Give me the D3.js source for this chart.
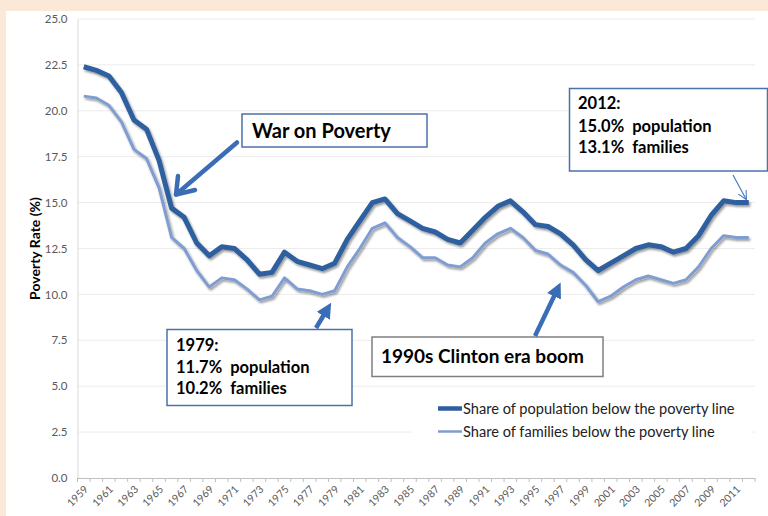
<!DOCTYPE html>
<html><head><meta charset="utf-8">
<script src="https://cdn.jsdelivr.net/npm/d3@7"></script>
<style>body{margin:0;background:#fff}svg{display:block}</style>
</head><body>
<svg id="chart" width="768" height="516"></svg>
<script>
const years = d3.range(1959, 2013);
const population = [22.4,22.2,21.9,21.0,19.5,19.0,17.3,14.7,14.2,12.8,
  12.1,12.6,12.5,11.9,11.1,11.2,12.3,11.8,11.6,11.4,
  11.7,13.0,14.0,15.0,15.2,14.4,14.0,13.6,13.4,13.0,
  12.8,13.5,14.2,14.8,15.1,14.5,13.8,13.7,13.3,12.7,
  11.9,11.3,11.7,12.1,12.5,12.7,12.6,12.3,12.5,13.2,
  14.3,15.1,15.0,15.0];
const families = [20.8,20.7,20.3,19.4,17.9,17.4,15.8,13.1,12.5,11.3,
  10.4,10.9,10.8,10.3,9.7,9.9,10.9,10.3,10.2,10.0,
  10.2,11.5,12.5,13.6,13.9,13.1,12.6,12.0,12.0,11.6,
  11.5,12.0,12.8,13.3,13.6,13.1,12.4,12.2,11.6,11.2,
  10.5,9.6,9.9,10.4,10.8,11.0,10.8,10.6,10.8,11.5,
  12.5,13.2,13.1,13.1];
const yTicks = [0,2.5,5,7.5,10,12.5,15,17.5,20,22.5,25];
const xLabelYears = years.filter(v => (v - 1959) % 2 === 0);
const seriesNames = ["Share of population below the poverty line","Share of families below the poverty line"];

const svg = d3.select("#chart");
const W = 768, H = 516;
const pL = 77.5, pR = 755, pT = 19, pB = 478;

svg.append("rect").attr("width", W).attr("height", H).attr("fill", "#fce8d6");
svg.append("rect").attr("x", 6).attr("y", 11).attr("width", W - 6).attr("height", H - 11).attr("fill", "#fff");

const defs = svg.append("defs");
const f = defs.append("filter").attr("id", "sh").attr("x", "-5%").attr("y", "-5%").attr("width", "110%").attr("height", "120%");
f.append("feDropShadow").attr("dx", 1.5).attr("dy", 2).attr("stdDeviation", 1.3).attr("flood-color", "#000").attr("flood-opacity", 0.4);
const mk = defs.append("marker").attr("id","tri").attr("viewBox","0 0 10 10").attr("refX",6).attr("refY",5)
  .attr("markerWidth",3.4).attr("markerHeight",3.4).attr("orient","auto").attr("markerUnits","strokeWidth");
mk.append("path").attr("d","M0,0L10,5L0,10z").attr("fill","#3a6db5");
const mk2 = defs.append("marker").attr("id","open").attr("viewBox","0 0 10 10").attr("refX",9).attr("refY",5)
  .attr("markerWidth",9).attr("markerHeight",9).attr("orient","auto").attr("markerUnits","userSpaceOnUse");
mk2.append("path").attr("d","M0,0L10,5L0,10").attr("fill","none").attr("stroke","#4a7bbf").attr("stroke-width",1.2);

const x = d3.scaleBand().domain(years).range([pL, pR]).padding(0);
const y = d3.scaleLinear().domain([0, 25]).range([pB, pT]);
const cx = d => x(d) + x.bandwidth() / 2;

// gridlines
svg.append("g").selectAll("line").data(yTicks.filter(t => t > 0)).join("line")
  .attr("x1", pL).attr("x2", pR).attr("y1", d => y(d)).attr("y2", d => y(d))
  .attr("stroke", "#ececec").attr("stroke-width", 1);

// y axis
const yAxis = svg.append("g").attr("transform", `translate(${pL},0)`)
  .call(d3.axisLeft(y).tickValues(yTicks).tickFormat(d3.format(".1f")).tickSize(0).tickPadding(10));
yAxis.select(".domain").attr("stroke", "#d9d9d9");
yAxis.selectAll("text").attr("font-family", "Lato, sans-serif").attr("font-size", 11.5).attr("fill", "#595959");

// x axis
const xAxis = svg.append("g").attr("transform", `translate(0,${pB})`)
  .call(d3.axisBottom(x).tickValues(xLabelYears).tickSize(0).tickPadding(0));
xAxis.select(".domain").attr("stroke", "#bfbfbf");
xAxis.selectAll("text").attr("font-family", "Lato, sans-serif").attr("font-size", 10.5).attr("fill", "#595959")
  .attr("text-anchor", "end").attr("dy", 0).attr("transform", "translate(5,12) rotate(-45)");
svg.append("g").selectAll("line").data(years.concat([2013])).join("line")
  .attr("x1", d => d === 2013 ? pR : x(d)).attr("x2", d => d === 2013 ? pR : x(d))
  .attr("y1", pB).attr("y2", pB + 4).attr("stroke", "#bfbfbf");

// axis title
svg.append("text").attr("transform", `translate(40,${(pT + pB) / 2}) rotate(-90)`)
  .attr("text-anchor", "middle").attr("font-family", "Lato, sans-serif").attr("font-weight", "bold")
  .attr("font-size", 14).attr("fill", "#000").text("Poverty Rate (%)");

// lines
const line = d3.line().x((d, i) => cx(years[i])).y(d => y(d));
svg.append("path").datum(families).attr("d", line).attr("fill", "none")
  .attr("stroke", "#7f9dd0").attr("stroke-width", 3).attr("stroke-linejoin", "round").attr("filter", "url(#sh)");
svg.append("path").datum(population).attr("d", line).attr("fill", "none")
  .attr("stroke", "#2f5e9e").attr("stroke-width", 5).attr("stroke-linejoin", "round").attr("filter", "url(#sh)");

// annotation boxes
function box(x0, y0, w, h, stroke) {
  svg.append("rect").attr("x", x0).attr("y", y0).attr("width", w).attr("height", h)
    .attr("fill", "#fff").attr("stroke", stroke).attr("stroke-width", 1.5);
}
function txt(x0, y0, s, size, weight) {
  return svg.append("text").attr("x", x0).attr("y", y0).attr("font-family", "Lato, sans-serif")
    .attr("font-size", size).attr("font-weight", weight || "bold").attr("fill", "#000")
    .style("white-space", "pre").text(s);
}
// legend background
svg.append("rect").attr("x", 412).attr("y", 394).attr("width", 340).attr("height", 50).attr("fill", "#fff");
svg.append("line").attr("x1", 438).attr("x2", 462).attr("y1", 408.5).attr("y2", 408.5).attr("stroke", "#2f5e9e").attr("stroke-width", 4.5);
svg.append("line").attr("x1", 438).attr("x2", 462).attr("y1", 431.5).attr("y2", 431.5).attr("stroke", "#7f9dd0").attr("stroke-width", 2.5);
txt(463, 413.5, seriesNames[0], 14.6, "normal").attr("fill", "#222");
txt(463, 436.5, seriesNames[1], 14.6, "normal").attr("fill", "#222");

// War on Poverty
box(242, 114, 185, 33, "#4a72a8");
txt(252, 138, "War on Poverty", 20);
svg.append("path").attr("d", "M237,142.5L176,194.5").attr("stroke", "#3a6db5").attr("stroke-width", 4.5).attr("fill", "none").attr("stroke-linecap", "round");
svg.append("path").attr("d", "M178,176L176,194.5L195,190").attr("stroke", "#3a6db5").attr("stroke-width", 4.5).attr("fill", "none").attr("stroke-linecap", "round").attr("stroke-linejoin", "round");

// 1979
box(167, 329.5, 185, 76, "#4a72a8");
txt(176, 351, "1979:", 16.5);
txt(176, 373, "11.7%  population", 16.5);
txt(176, 394, "10.2%  families", 16.5);
svg.append("path").attr("d", "M316,328L328,308").attr("stroke", "#3a6db5").attr("stroke-width", 4.5).attr("fill", "none").attr("marker-end", "url(#tri)");

// Clinton
box(372, 337, 231, 39.5, "#7f7f7f");
txt(381, 362.5, "1990s Clinton era boom", 19);
svg.append("path").attr("d", "M535,336L558,288").attr("stroke", "#3a6db5").attr("stroke-width", 4.5).attr("fill", "none").attr("marker-end", "url(#tri)");

// 2012
box(569.5, 88.5, 198, 82.5, "#4a72a8");
txt(578, 109, "2012:", 16.5);
txt(578, 132, "15.0%  population", 16.5);
txt(578, 153, "13.1%  families", 16.5);
svg.append("path").attr("d", "M733,175L746,199").attr("stroke", "#4a7bbf").attr("stroke-width", 1.2).attr("fill", "none").attr("marker-end", "url(#open)");
</script>
</body></html>
